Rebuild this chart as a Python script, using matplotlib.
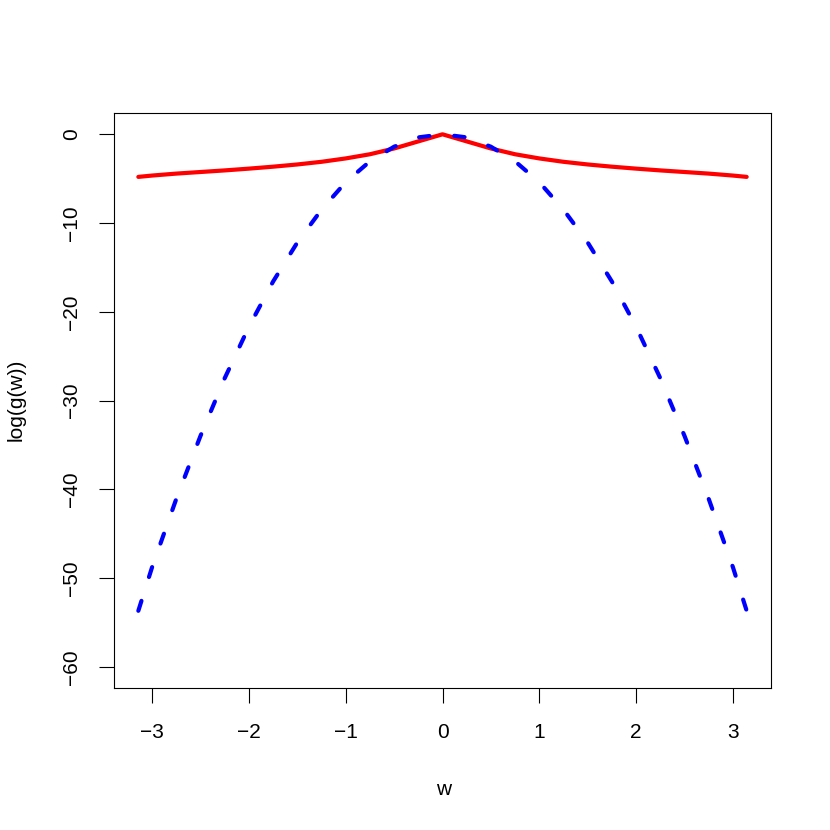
import numpy as np
import matplotlib
matplotlib.use("Agg")
import matplotlib.pyplot as plt

plt.rcParams['font.family'] = ['Liberation Sans', 'DejaVu Sans']

# frequency grid (half, mirrored below)
w_half = [0.0, 0.25, 0.5, 0.75, 1.0, 1.25, 1.5, 1.75, 2.0, 2.25, 2.5, 2.75, 3.0, 3.1416]
# red solid curve values
red_half = [0.0, -0.8, -1.6, -2.25, -2.72, -3.1, -3.4, -3.65, -3.87, -4.07, -4.25, -4.43, -4.65, -4.8]
# blue dashed curve values
blue_half = [0.0, -0.35, -1.4, -3.05, -5.4, -8.5, -12.2, -16.6, -21.7, -27.5, -34.0, -41.1, -48.8, -53.7]

xticks = [-3, -2, -1, 0, 1, 2, 3]
yticks = [0, -10, -20, -30, -40, -50, -60]

w = np.concatenate([-np.array(w_half[::-1]), np.array(w_half[1:])])
red = np.concatenate([np.array(red_half[::-1]), np.array(red_half[1:])])
blue = np.concatenate([np.array(blue_half[::-1]), np.array(blue_half[1:])])

fig = plt.figure(figsize=(8.3, 8.3), dpi=100)
ax = fig.add_axes([114/830, 1-688/830, 657/830, 575/830])

ax.plot(w, red, color='#FF0000', lw=3.0, solid_capstyle='round', solid_joinstyle='round')
ax.plot(w, blue, color='#0000FF', lw=3.0, dashes=(2.5, 6), dash_capstyle='round')

ax.set_xlim(-3.3929, 3.3929)
ax.set_ylim(-62.4, 2.4)
ax.set_xticks(xticks)
ax.set_xticklabels([str(t).replace('-', '\u2212') for t in xticks])
ax.set_yticks(yticks)
ax.set_yticklabels([str(t).replace('-', '\u2212') for t in yticks], rotation=90, va='center')
ax.tick_params(axis='both', length=10.8, width=0.8, labelsize=15, direction='out')
ax.tick_params(axis='x', pad=14.5)
ax.tick_params(axis='y', pad=13)
for s in ax.spines.values():
    s.set_linewidth(0.8)
    s.set_color('black')

fig.text(443.5/830, 1-789/830, 'w', ha='center', va='center', fontsize=15)
fig.text(16/830, 1-400/830, 'log(g(w))', ha='center', va='center', rotation=90, fontsize=15)

fig.savefig('out.png', dpi=100, facecolor='white')
